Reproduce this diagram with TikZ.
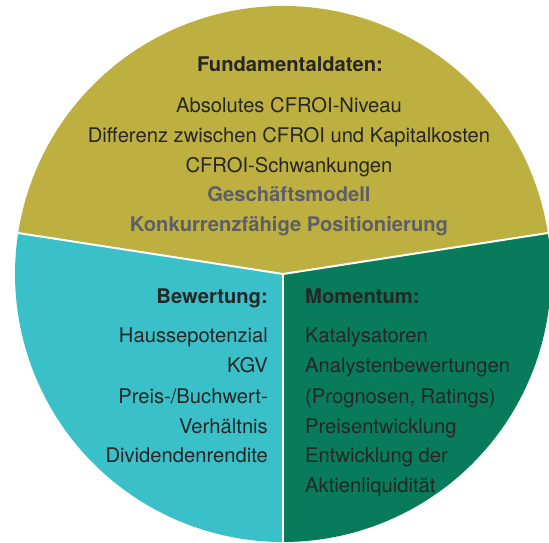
\documentclass[tikz,border=0pt]{standalone}
\usepackage{fontspec}
\setmainfont{TeX Gyre Heros}
\usetikzlibrary{calc}
\definecolor{olivefill}{HTML}{BEB040}
\definecolor{tealfill}{HTML}{3AC0C8}
\definecolor{greenfill}{HTML}{087C5A}
\definecolor{txtdark}{HTML}{262626}
\definecolor{txtgray}{HTML}{5C5F66}
\tikzset{
  txt/.style={inner sep=0pt, text=txtdark, font=\fontsize{20.2}{24}\selectfont},
  hdr/.style={inner sep=0pt, text=txtdark, font=\fontsize{20.2}{24}\selectfont\bfseries},
  graytxt/.style={inner sep=0pt, text=txtgray, font=\fontsize{20.2}{24}\selectfont\bfseries},
  sep/.style={draw=white, line width=2pt}
}
\begin{document}
\begin{tikzpicture}[x=1pt,y=1pt]
\useasboundingbox (0,0) rectangle (549,542);
\clip (0,0) rectangle (549,542);
\coordinate (C) at (283,268);
\coordinate (L) at ($(C)+(171.2:268)$);
\coordinate (R) at ($(C)+(8.8:268)$);
\coordinate (B) at ($(C)+(270:268)$);
% wedges
\fill[olivefill] (C) -- (R) arc[start angle=8.8, end angle=171.2, radius=268] -- cycle;
\fill[tealfill] (C) -- (L) arc[start angle=171.2, end angle=270, radius=268] -- cycle;
\fill[greenfill] (C) -- (B) arc[start angle=270, end angle=368.8, radius=268] -- cycle;
% separators
\draw[sep] (C) -- (L);
\draw[sep] (C) -- (R);
\draw[sep] (C) -- (B);
% top block
\node[hdr, anchor=base] (fh) at (290,470.3) {Fundamentaldaten:};
\node[txt, anchor=base] (f1) at (289,429.7) {Absolutes CFROI-Niveau};
\node[txt, anchor=base] (f2) at (289,399.7) {Differenz zwischen CFROI und Kapitalkosten};
\node[txt, anchor=base] (f3) at (289,369.7) {CFROI-Schwankungen};
\node[graytxt, anchor=base] (f4) at (289,340.3) {Geschäftsmodell};
\node[graytxt, anchor=base] (f5) at (289,310.3) {Konkurrenzfähige Positionierung};
% left block
\node[hdr, anchor=base east] (bh) at (268,238.7) {Bewertung:};
\node[txt, anchor=base east] (b1) at (268,199.7) {Haussepotenzial};
\node[txt, anchor=base east] (b2) at (268,169.7) {KGV};
\node[txt, anchor=base east] (b3) at (268,138.7) {Preis-/Buchwert-};
\node[txt, anchor=base east] (b4) at (268,108.7) {Verhältnis};
\node[txt, anchor=base east] (b5) at (268,79.3) {Dividendenrendite};
% right block
\node[hdr, anchor=base west] (mh) at (305,238.2) {Momentum:};
\node[txt, anchor=base west] (m1) at (305,199.7) {Katalysatoren};
\node[txt, anchor=base west] (m2) at (305,170) {Analystenbewertungen};
\node[txt, anchor=base west] (m3) at (305,139) {(Prognosen, Ratings)};
\node[txt, anchor=base west] (m4) at (305,109) {Preisentwicklung};
\node[txt, anchor=base west] (m5) at (305,80) {Entwicklung der};
\node[txt, anchor=base west] (m6) at (305,50) {Aktienliquidität};
\end{tikzpicture}
\end{document}
